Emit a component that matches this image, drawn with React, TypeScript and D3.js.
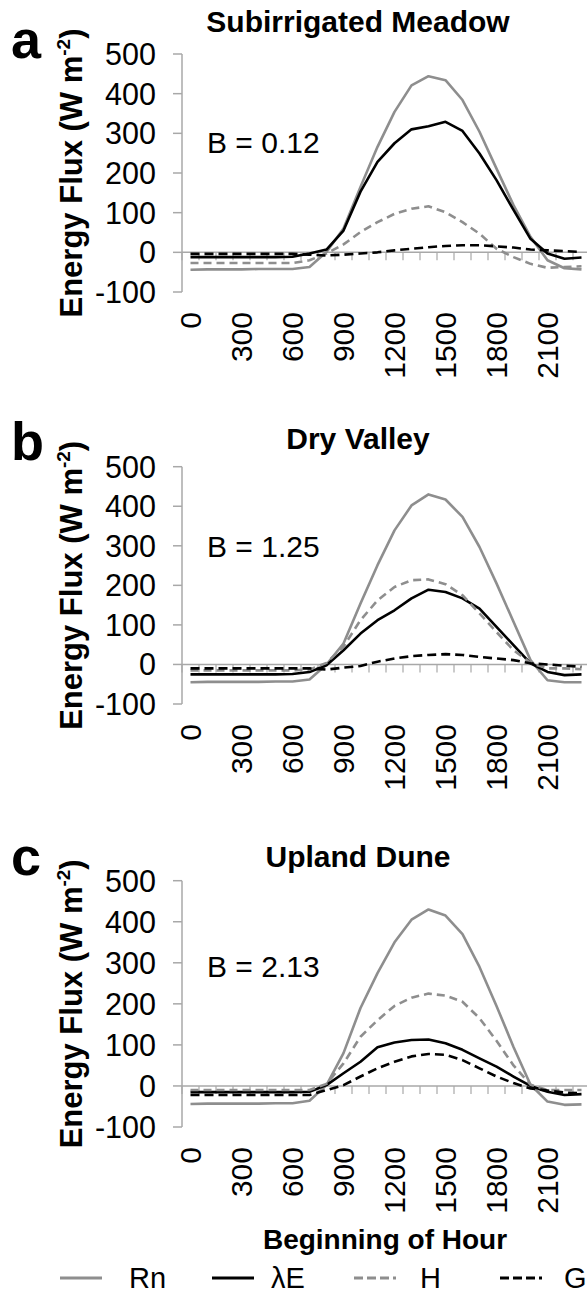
import React from "react";
import * as d3 from "d3";

const hours = ["0","100","200","300","400","500","600","700","800","900","1000","1100","1200","1300","1400","1500","1600","1700","1800","1900","2000","2100","2200","2300"];
const hourLabels = ["0","300","600","900","1200","1500","1800","2100"];
const yTicks = [-100, 0, 100, 200, 300, 400, 500];
const seriesNames = ["Rn", "λE", "H", "G"];

// Panel a: Subirrigated Meadow
const rnA = [-44,-43,-43,-43,-42,-42,-42,-37,1,60,165,266,354,421,444,434,384,304,211,119,39,-20,-40,-43];
const leA = [-12,-12,-12,-12,-12,-12,-11,-3,7,55,153,228,275,310,318,329,306,249,182,107,34,-3,-16,-13];
const hA = [-27,-27,-27,-27,-27,-27,-27,-20,-3,20,51,76,97,110,116,101,76,47,9,-12,-29,-39,-37,-35];
const gA = [-4,-4,-4,-4,-4,-4,-4,-6,-8,-6,-3,0,5,9,13,16,18,18,15,12,7,5,3,1];

// Panel b: Dry Valley
const rnB = [-45,-44,-44,-44,-44,-43,-43,-38,0,53,154,251,339,402,430,417,373,297,205,108,11,-40,-45,-45];
const leB = [-25,-25,-25,-25,-25,-25,-24,-19,-2,36,78,112,137,167,189,183,167,141,95,49,3,-19,-27,-25];
const hB = [-15,-15,-15,-15,-15,-15,-15,-13,4,45,112,162,196,213,215,203,175,129,82,36,4,-10,-10,-12];
const gB = [-10,-10,-10,-10,-10,-10,-10,-10,-13,-8,-4,7,15,21,24,26,24,19,15,11,3,0,-3,-6];

// Panel c: Upland Dune
const rnC = [-44,-43,-43,-43,-43,-42,-42,-36,2,80,190,275,350,405,430,415,370,290,195,95,3,-38,-46,-45];
const leC = [-15,-15,-15,-15,-15,-15,-15,-14,2,31,59,94,106,112,113,104,88,67,47,23,0,-14,-22,-20];
const hC = [-10,-10,-10,-10,-10,-10,-10,-10,5,55,120,160,195,215,225,220,205,165,110,50,3,-10,-10,-10];
const gC = [-22,-22,-22,-22,-22,-22,-22,-22,-10,2,23,43,59,72,78,76,63,43,23,7,-6,-11,-16,-18];

const panels = [
  { letter: "a", title: "Subirrigated Meadow", bLabel: "B = 0.12", top: 54, bottom: 292, letterY: 58, titleY: 32, bY: 153, rn: rnA, le: leA, h: hA, g: gA },
  { letter: "b", title: "Dry Valley", bLabel: "B = 1.25", top: 466.7, bottom: 704, letterY: 460, titleY: 449, bY: 557, rn: rnB, le: leB, h: hB, g: gB },
  { letter: "c", title: "Upland Dune", bLabel: "B = 2.13", top: 880.7, bottom: 1127, letterY: 875, titleY: 867, bY: 977, rn: rnC, le: leC, h: hC, g: gC },
];

const GREY = "#8e8e8e";
const AXIS = "#a8a8a8";
const FONT = "'Liberation Sans', Arial, sans-serif";

const styles = [
  { color: GREY, dash: undefined as string | undefined },
  { color: "#000", dash: undefined as string | undefined },
  { color: GREY, dash: "8 5" },
  { color: "#000", dash: "9 5" },
];

function Panel({ p }: { p: typeof panels[number] }) {
  const x = d3.scaleBand<string>().domain(hours).range([182, 182 + 17 * 24]).padding(0);
  const y = d3.scaleLinear().domain([-100, 500]).range([p.bottom, p.top]);
  const cx = (h: string) => (x(h) as number) + x.bandwidth() / 2;
  const line = d3.line<number>().x((_, i) => cx(hours[i])).y((v) => y(v));
  const series = [p.rn, p.le, p.h, p.g];
  const y0 = y(0);
  const boundaries = d3.range(0, 25).map((k) => 182 + x.bandwidth() * k);
  return (
    <g>
      <text x={11} y={p.letterY} fontFamily={FONT} fontWeight="bold" fontSize={54}>{p.letter}</text>
      <text x={358} y={p.titleY} textAnchor="middle" fontFamily={FONT} fontWeight="bold" fontSize={30}>{p.title}</text>
      <text transform={`translate(82,${(p.top + p.bottom) / 2}) rotate(-90)`} textAnchor="middle" fontFamily={FONT} fontWeight="bold" fontSize={31}>
        Energy Flux (W m<tspan fontSize={19} dy={-12}>-2</tspan><tspan dy={12}>)</tspan>
      </text>
      {/* y axis */}
      <line x1={182} x2={182} y1={p.top} y2={p.bottom} stroke={AXIS} strokeWidth={1.5} />
      {yTicks.map((t) => (
        <g key={t}>
          <line x1={173} x2={182} y1={y(t)} y2={y(t)} stroke={AXIS} strokeWidth={1.5} />
          <text x={156} y={y(t)} dy="0.36em" textAnchor="end" fontFamily={FONT} fontSize={30.5}>{t}</text>
        </g>
      ))}
      {/* x axis at zero */}
      <line x1={182} x2={590} y1={y0} y2={y0} stroke={AXIS} strokeWidth={1.5} />
      {boundaries.map((b, k) => (
        <line key={k} x1={b} x2={b} y1={y0} y2={y0 + 8} stroke={AXIS} strokeWidth={1.2} />
      ))}
      {hourLabels.map((h) => (
        <text key={h} transform={`translate(${cx(h)},${p.bottom + 20}) rotate(-90)`} dy="0.36em" textAnchor="end" fontFamily={FONT} fontSize={30}>{h}</text>
      ))}
      <text x={207} y={p.bY} fontFamily={FONT} fontSize={30}>{p.bLabel}</text>
      {series.map((s, i) => (
        <path key={i} d={line(s) as string} fill="none" stroke={styles[i].color} strokeWidth={2.6} strokeDasharray={styles[i].dash} strokeLinejoin="round" />
      ))}
    </g>
  );
}

const legendX = [60, 212, 354, 500];
const legendTextX = [129, 271, 420, 564];

export default function App() {
  return (
    <svg width={587} height={1294} style={{ position: "absolute", left: 0, top: 0, background: "#fff" }}>
      <rect width={587} height={1294} fill="#fff" />
      {panels.map((p) => (
        <Panel key={p.letter} p={p} />
      ))}
      <text x={385} y={1249} textAnchor="middle" fontFamily={FONT} fontWeight="bold" fontSize={28}>Beginning of Hour</text>
      {seriesNames.map((n, i) => (
        <g key={n}>
          <line x1={legendX[i]} x2={legendX[i] + 42} y1={1278} y2={1278} stroke={styles[i].color} strokeWidth={2.8} strokeDasharray={styles[i].dash ? "9 4" : undefined} />
          <text x={legendTextX[i]} y={1288} fontFamily={FONT} fontSize={29}>{n}</text>
        </g>
      ))}
    </svg>
  );
}
